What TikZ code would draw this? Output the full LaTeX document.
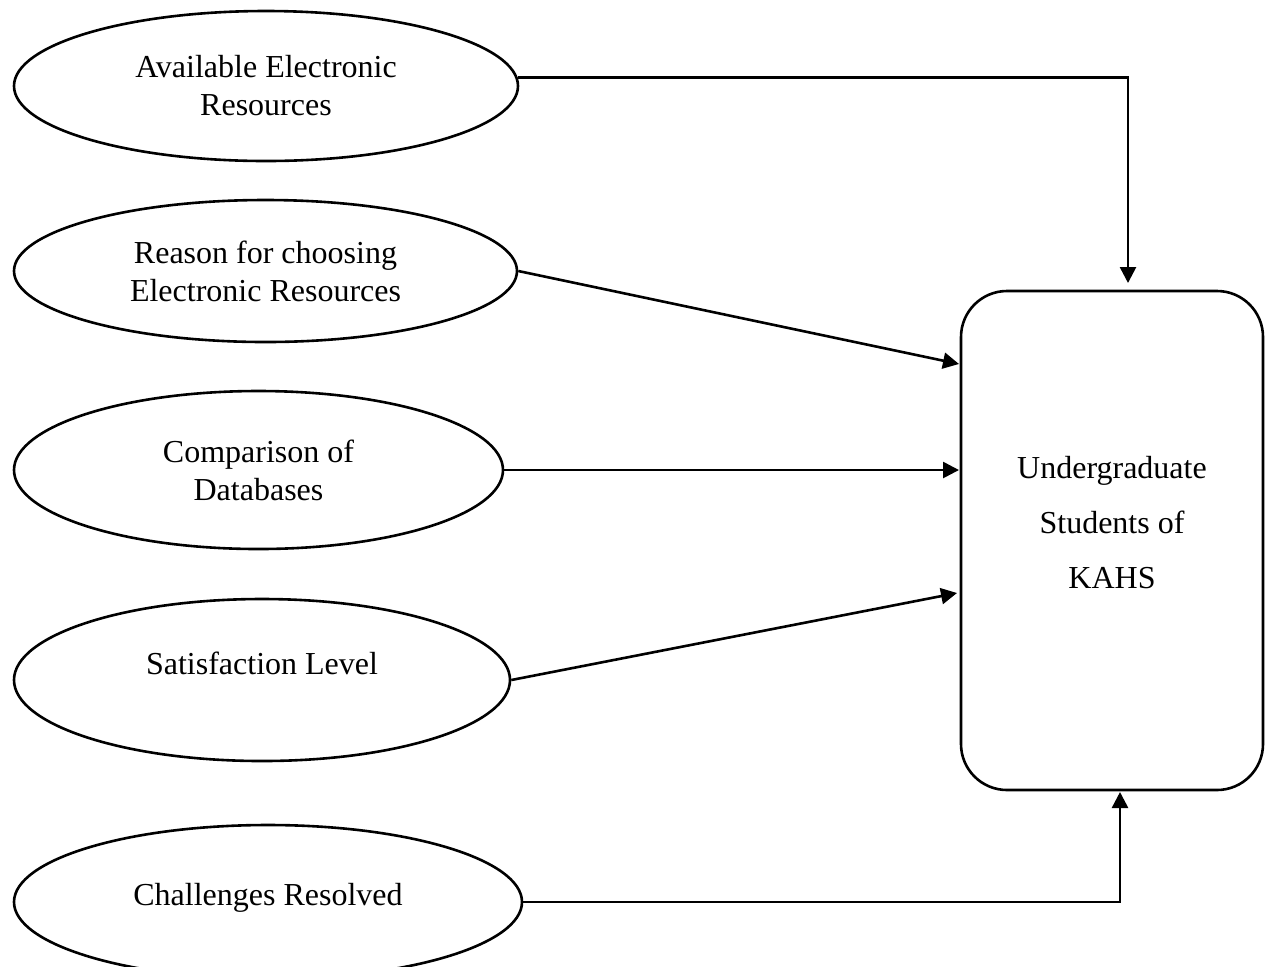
\documentclass[tikz,border=0pt]{standalone}
\usepackage{fontspec}
\setmainfont{Liberation Serif}
\usetikzlibrary{shapes.geometric,arrows.meta}
\begin{document}
\begin{tikzpicture}[x=0.5pt,y=-0.5pt,
  every node/.style={font=\fontsize{16pt}{19pt}\selectfont},
  oval/.style={draw=black,ellipse,line width=1.3pt,inner sep=0pt,align=center},
  bigbox/.style={draw=black,rectangle,rounded corners=23pt,line width=1.3pt,inner sep=0pt,
    minimum width=151pt,minimum height=249.5pt},
  conn/.style={line width=1.3pt,-{Triangle[length=8pt,width=8pt]}}
]
\clip (0,0) rectangle (1268,966);
\useasboundingbox (0,0) rectangle (1268,966);
\fill[white] (0,0) rectangle (1268,966);

\node[oval,minimum width=252pt,minimum height=75pt] (e1) at (266,86) {Available Electronic\\Resources};
\node[oval,minimum width=251.5pt,minimum height=71pt] (e2) at (265.5,271) {Reason for choosing\\Electronic Resources};
\node[oval,minimum width=244.5pt,minimum height=79pt] (e3) at (258.5,470) {Comparison of\\Databases};
\node[oval,minimum width=248pt,minimum height=81pt,
  label={[yshift=8.5pt]center:Satisfaction Level}] (e4) at (262,680) {};
\node[oval,minimum width=254pt,minimum height=77pt,
  label={[yshift=2pt]center:Challenges Resolved}] (e5) at (268,902) {};

\node[bigbox,label={[yshift=9pt,align=center,font=\fontsize{16pt}{27.5pt}\selectfont]center:Undergraduate\\Students of\\KAHS}] (r) at (1112,540.5) {};

\coordinate (t1) at (1128,283);
\coordinate (t2) at (959,364);
\coordinate (t3) at (959,470);
\coordinate (t4) at (957,593);
\coordinate (t5) at (1120,792);

\draw[conn] (e1.2) -| (t1);
\draw[conn] (e2.east) -- (t2);
\draw[conn] (e3.east) -- (t3);
\draw[conn] (e4.east) -- (t4);
\draw[conn] (e5.east) -| (t5);
\end{tikzpicture}
\end{document}
